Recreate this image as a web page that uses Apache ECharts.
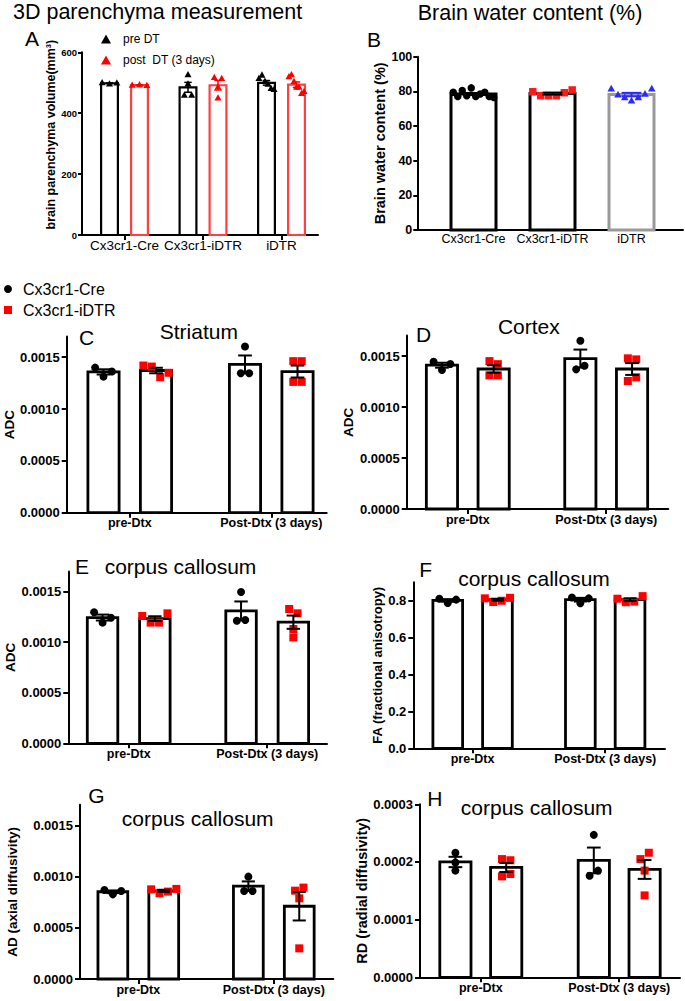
<!DOCTYPE html>
<html><head><meta charset="utf-8">
<script src="https://cdn.jsdelivr.net/npm/echarts@6/dist/echarts.min.js"></script>
<style>html,body{margin:0;padding:0;background:#fff}#c{width:685px;height:1001px}</style>
</head><body><div id="c"></div>
<script>
// ---------------- DATA ----------------
// Panel A: 3D parenchyma measurement (mm^3)
const catsA = ['Cx3cr1-Cre', 'Cx3cr1-iDTR', 'iDTR'];
const ticksA = [0, 200, 400, 600];
const preDT = [[500, 496, 499], [526, 459, 459, 496], [514, 525, 505, 495, 481, 478]];
const postDT = [[492, 493, 491], [517, 514, 486, 450], [520, 526, 504, 485, 485, 465, 471]];

// Panel B: brain water content (%)
const catsB = ['Cx3cr1-Cre', 'Cx3cr1-iDTR', 'iDTR'];
const ticksB = [0, 20, 40, 60, 80, 100];
const waterB = [
  [79.5, 77, 80.5, 77.5, 82, 77, 78.5, 79.5, 77, 76.5],
  [79.8, 77.5, 77.5, 77.5, 79.2, 80.8],
  [81.5, 78, 76.5, 74.5, 76.5, 78.5, 81.5]
];

// Panels C-H: MRI measures, pre-Dtx vs Post-Dtx
const dtxCats = ['pre-Dtx', 'Post-Dtx (3 days)'];
const adcTicks = [0, 0.0005, 0.0010, 0.0015];
const faTicks = [0, 0.2, 0.4, 0.6, 0.8];
const rdTicks = [0, 0.0001, 0.0002, 0.0003];

const striatumCre  = [[0.00140, 0.001313, 0.001362], [0.001603, 0.001345, 0.001345]];
const striatumIDTR = [[0.00142, 0.00141, 0.001307, 0.00135], [0.001462, 0.001462, 0.001262, 0.001262]];
const cortexCre    = [[0.001444, 0.001363, 0.001422], [0.00165, 0.001369, 0.001405]];
const cortexIDTR   = [[0.00145, 0.00142, 0.00131, 0.00131], [0.001477, 0.001467, 0.001255, 0.001291]];
const ccAdcCre     = [[0.001296, 0.001194, 0.001243], [0.001497, 0.001213, 0.00122]];
const ccAdcIDTR    = [[0.00126, 0.001194, 0.001194, 0.001286], [0.001329, 0.001286, 0.001131, 0.001048]];
const faCre        = [[0.811, 0.788, 0.806], [0.818, 0.786, 0.813]];
const faIDTR       = [[0.813, 0.793, 0.800, 0.816], [0.811, 0.792, 0.795, 0.825]];
const adCre        = [[0.000869, 0.000826, 0.000859], [0.000999, 0.000859, 0.000859]];
const adIDTR       = [[0.000875, 0.000836, 0.000853, 0.000879], [0.000862, 0.000787, 0.000892, 0.000299]];
const rdCre        = [[0.000216, 0.000185, 0.000199], [0.000247, 0.000176, 0.000185]];
const rdIDTR       = [[0.000205, 0.000203, 0.000175, 0.000179], [0.000205, 0.000216, 0.000185, 0.000142]];

// ---------------- LAYOUT ----------------
const FONT = 'Liberation Sans, Arial, sans-serif';
const f4 = v => v.toFixed(4), f1 = v => v.toFixed(1), fs = v => String(v);
const dtxStyle = {xFont: 12.5, xBold: true, xMargin: 4, tickFont: 13, tickMargin: 7, tickLen: 5, showXTick: true,
  barStroke: 2.8, ptSize: 8, errW: 2};
const panels = [
  {L: 82, R: 318, top: 52.3, bottom: 235, c0: 124.5, unit: 78.5, barW: 19, pair: 30, cats: catsA, max: 600, ticks: ticksA, fmt: fs,
   yName: 'brain parenchyma volume(mm³)', yFont: 12.5, nameGap: 23.5, namePad: [0, 0, 0, 18],
   xFont: 13.5, xBold: false, xMargin: 3, tickFont: 9.5, tickMargin: 5, tickLen: 4, showXTick: true, barStroke: 2.2, ptSize: 7, errW: 1.5},
  {L: 417.3, R: 683, top: 56.7, bottom: 230, c0: 473.5, unit: 79, barW: 48, pair: 0, cats: catsB, max: 100, ticks: ticksB, fmt: fs,
   yName: 'Brain water content (%)', yFont: 14.5, nameGap: 26.5,
   xFont: 12.5, xBold: false, xMargin: 2, tickFont: 12.5, tickMargin: 5, tickLen: 4, showXTick: false, barStroke: 3, ptSize: 7.5, errW: 2},
  Object.assign({L: 66.7, R: 326.7, top: 336.5, bottom: 512.7, c0: 129.75, unit: 141.5, barW: 34, pair: 52.5, cats: dtxCats, max: 0.0017, ticks: adcTicks, fmt: f4,
   yName: 'ADC', yFont: 13.5, nameGap: 50}, dtxStyle),
  Object.assign({L: 406.7, R: 668.3, top: 335.6, bottom: 509, c0: 467.8, unit: 138.4, barW: 34, pair: 51.7, cats: dtxCats, max: 0.0017, ticks: adcTicks, fmt: f4,
   yName: 'ADC', yFont: 13.5, nameGap: 51}, dtxStyle),
  Object.assign({L: 68.3, R: 327, top: 571.5, bottom: 743.3, c0: 128.7, unit: 138.5, barW: 33.3, pair: 52.3, cats: dtxCats, max: 0.0017, ticks: adcTicks, fmt: f4,
   yName: 'ADC', yFont: 13.5, nameGap: 48.5}, dtxStyle),
  Object.assign({L: 413.3, R: 665, top: 582.3, bottom: 748.3, c0: 472.6, unit: 132.6, barW: 32.5, pair: 49.7, cats: dtxCats, max: 0.9, ticks: faTicks, fmt: f1,
   yName: 'FA (fractional anisotropy)', yFont: 13, nameGap: 27.8}, dtxStyle),
  Object.assign({L: 80, R: 333.3, top: 804.8, bottom: 979, c0: 138.3, unit: 135.5, barW: 32.6, pair: 50.9, cats: dtxCats, max: 0.0017, ticks: adcTicks, fmt: f4,
   yName: 'AD (axial diffusivity)', yFont: 13.5, nameGap: 60.5}, dtxStyle),
  Object.assign({L: 420, R: 680, top: 804.3, bottom: 977.3, c0: 480.8, unit: 138.4, barW: 34, pair: 50.8, cats: dtxCats, max: 0.0003, ticks: rdTicks, fmt: f4,
   yName: 'RD (radial diffusivity)', yFont: 14.5, nameGap: 49}, dtxStyle)
];

const RED = '#ff0000', BLK = '#000000';
const groups = [
  {p: 0, name: 'pre DT', slot: -1, data: preDT, shape: 'triangle', color: BLK, stroke: BLK, err: BLK},
  {p: 0, name: 'post  DT (3 days)', slot: 1, data: postDT, shape: 'triangle', color: RED, stroke: '#ff4040', err: RED},
  {p: 1, name: 'Brain water content', slot: 0, data: waterB, shape: ['circle', 'rect', 'triangle'],
   color: [BLK, '#ff1a1a', '#2a2aff'], stroke: [BLK, BLK, '#999999'], err: [BLK, BLK, '#2a2aff']},
  {p: 2, name: 'Cx3cr1-Cre', slot: -1, data: striatumCre, shape: 'circle', color: BLK, stroke: BLK, err: BLK},
  {p: 2, name: 'Cx3cr1-iDTR', slot: 1, data: striatumIDTR, shape: 'rect', color: RED, stroke: BLK, err: BLK},
  {p: 3, name: 'Cx3cr1-Cre', slot: -1, data: cortexCre, shape: 'circle', color: BLK, stroke: BLK, err: BLK},
  {p: 3, name: 'Cx3cr1-iDTR', slot: 1, data: cortexIDTR, shape: 'rect', color: RED, stroke: BLK, err: BLK},
  {p: 4, name: 'Cx3cr1-Cre', slot: -1, data: ccAdcCre, shape: 'circle', color: BLK, stroke: BLK, err: BLK},
  {p: 4, name: 'Cx3cr1-iDTR', slot: 1, data: ccAdcIDTR, shape: 'rect', color: RED, stroke: BLK, err: BLK},
  {p: 5, name: 'Cx3cr1-Cre', slot: -1, data: faCre, shape: 'circle', color: BLK, stroke: BLK, err: BLK},
  {p: 5, name: 'Cx3cr1-iDTR', slot: 1, data: faIDTR, shape: 'rect', color: RED, stroke: BLK, err: BLK},
  {p: 6, name: 'Cx3cr1-Cre', slot: -1, data: adCre, shape: 'circle', color: BLK, stroke: BLK, err: BLK},
  {p: 6, name: 'Cx3cr1-iDTR', slot: 1, data: adIDTR, shape: 'rect', color: RED, stroke: BLK, err: BLK},
  {p: 7, name: 'Cx3cr1-Cre', slot: -1, data: rdCre, shape: 'circle', color: BLK, stroke: BLK, err: BLK},
  {p: 7, name: 'Cx3cr1-iDTR', slot: 1, data: rdIDTR, shape: 'rect', color: RED, stroke: BLK, err: BLK}
];

// ---------------- HELPERS ----------------
const pick = (v, i) => Array.isArray(v) ? v[i] : v;
const meanOf = a => a.reduce((s, x) => s + x, 0) / a.length;
const semOf = a => { const m = meanOf(a); return Math.sqrt(a.reduce((s, x) => s + (x - m) * (x - m), 0) / (a.length - 1)) / Math.sqrt(a.length); };

function swarm(vals, api, cx, size, maxSpread) {
  const ys = vals.map(v => api.coord([0, v])[1]);
  const idx = vals.map((_, k) => k).sort((a, b) => ys[a] - ys[b]);
  const clusters = []; let cur = [idx[0]];
  for (let k = 1; k < idx.length; k++) {
    if (ys[idx[k]] - ys[idx[k - 1]] < size * 0.9) cur.push(idx[k]);
    else { clusters.push(cur); cur = [idx[k]]; }
  }
  clusters.push(cur);
  const xs = [];
  clusters.forEach(c => {
    c.sort((a, b) => a - b);
    const n = c.length;
    const d = n > 1 ? Math.min(size * 1.05, maxSpread / (n - 1)) : 0;
    c.forEach((k, j) => { xs[k] = cx + (j - (n - 1) / 2) * d; });
  });
  return vals.map((_, k) => [xs[k], ys[k]]);
}

function marker(shape, x, y, s, color) {
  if (shape === 'circle') return {type: 'circle', shape: {cx: x, cy: y, r: s / 2}, style: {fill: color}};
  if (shape === 'rect') return {type: 'rect', shape: {x: x - s / 2, y: y - s / 2, width: s, height: s}, style: {fill: color}};
  const h = s * 0.9;
  return {type: 'polygon', shape: {points: [[x, y - h * 0.6], [x - s / 2, y + h * 0.4], [x + s / 2, y + h * 0.4]]}, style: {fill: color}};
}

function makeRender(g, p) {
  return function (params, api) {
    const i = params.dataIndex;
    const vals = g.data[i];
    const m = meanOf(vals), se = semOf(vals);
    const c = api.coord([i, m]);
    const b = api.coord([i, 0]);
    const cx = c[0] + g.slot * p.pair / 2;
    const sw = p.barStroke, w = p.barW - sw;
    const errC = pick(g.err, i);
    const children = [{type: 'rect', shape: {x: cx - w / 2, y: c[1], width: w, height: b[1] - c[1]},
      style: {fill: '#fff', stroke: pick(g.stroke, i), lineWidth: sw}}];
    swarm(vals, api, cx, p.ptSize, w * 0.9).forEach(([x, y]) =>
      children.push(marker(pick(g.shape, i), x, y, p.ptSize, pick(g.color, i))));
    const yHi = api.coord([i, m + se])[1], yLo = api.coord([i, m - se])[1];
    const cap = w * 0.22;
    const ls = {stroke: errC, lineWidth: p.errW};
    children.push({type: 'line', shape: {x1: cx, y1: yHi, x2: cx, y2: yLo}, style: ls});
    children.push({type: 'line', shape: {x1: cx - cap, y1: yHi, x2: cx + cap, y2: yHi}, style: ls});
    children.push({type: 'line', shape: {x1: cx - cap, y1: yLo, x2: cx + cap, y2: yLo}, style: ls});
    return {type: 'group', children};
  };
}

// ---------------- OPTION ----------------
const grid = [], xAxis = [], yAxis = [];
panels.forEach((p, k) => {
  const n = p.cats.length;
  grid.push({left: p.L, top: p.top, width: p.R - p.L, height: p.bottom - p.top});
  const idxs = p.cats.map((_, i) => i);
  xAxis.push({
    type: 'value', gridIndex: k,
    min: -(p.c0 - p.L) / p.unit,
    max: (n - 1) + (p.R - p.c0 - (n - 1) * p.unit) / p.unit,
    splitLine: {show: false},
    axisLine: {show: true, onZero: false, lineStyle: {color: BLK, width: 2}},
    axisTick: {show: p.showXTick, customValues: idxs, length: 5, lineStyle: {color: BLK, width: 2}},
    axisLabel: {customValues: idxs, formatter: v => p.cats[Math.round(v)], margin: p.xMargin, hideOverlap: false,
      color: BLK, fontFamily: FONT, fontSize: p.xFont, fontWeight: p.xBold ? 'bold' : 'normal'}
  });
  yAxis.push({
    type: 'value', gridIndex: k, min: 0, max: p.max,
    splitLine: {show: false},
    axisLine: {show: true, onZero: false, lineStyle: {color: BLK, width: 2}},
    axisTick: {show: true, customValues: p.ticks, length: p.tickLen, lineStyle: {color: BLK, width: 2}},
    axisLabel: {customValues: p.ticks, formatter: p.fmt, margin: p.tickMargin, color: BLK,
      fontFamily: FONT, fontSize: p.tickFont, fontWeight: 'bold'},
    name: p.yName, nameLocation: 'middle', nameRotate: 90, nameGap: p.nameGap,
    nameTextStyle: {color: BLK, fontFamily: FONT, fontSize: p.yFont, fontWeight: 'bold', padding: p.namePad || 0}
  });
});

const series = groups.map(g => ({
  type: 'custom', name: g.name, xAxisIndex: g.p, yAxisIndex: g.p,
  itemStyle: {color: pick(g.color, 0)},
  data: g.data.map((v, i) => [i, meanOf(v)]),
  encode: {x: 0, y: 1},
  renderItem: makeRender(g, panels[g.p])
}));

const labels = [
  ['3D parenchyma measurement', 13, 12, 21.5, 'left'],
  ['A', 25, 38.5, 21, 'left'],
  ['Brain water content (%)', 530, 12.5, 21.5, 'center'],
  ['B', 367, 39, 21, 'left'],
  ['C', 79, 337.5, 21, 'left'], ['Striatum', 198.8, 331, 21, 'center'],
  ['D', 416, 334.5, 21, 'left'], ['Cortex', 528.8, 326, 21, 'center'],
  ['E', 75, 566, 21, 'left'], ['corpus callosum', 180.5, 566.5, 21, 'center'],
  ['F', 419.3, 569, 21, 'left'], ['corpus callosum', 534, 578.3, 21, 'center'],
  ['G', 88.3, 795, 21, 'left'], ['corpus callosum', 197.7, 818.7, 21, 'center'],
  ['H', 427.3, 798.3, 21, 'left'], ['corpus callosum', 536.7, 807, 21, 'center']
];
const graphic = labels.map(([t, x, y, s, a]) => ({
  type: 'text', x, y, silent: true,
  style: {text: t, fill: BLK, font: `${s}px ${FONT}`, textAlign: a, textVerticalAlign: 'middle'}
}));

const legend = [
  {orient: 'vertical', left: 101, top: 33, padding: 0, itemWidth: 10, itemHeight: 9, itemGap: 9, selectedMode: false,
   textStyle: {color: BLK, fontFamily: FONT, fontSize: 12, padding: [0, 0, 0, 7]},
   data: [{name: 'pre DT', icon: 'triangle', itemStyle: {color: BLK}},
          {name: 'post  DT (3 days)', icon: 'triangle', itemStyle: {color: RED}}]},
  {orient: 'vertical', left: 4, top: 281, padding: 0, itemWidth: 8, itemHeight: 8, itemGap: 5, selectedMode: false,
   textStyle: {color: BLK, fontFamily: FONT, fontSize: 16, padding: [0, 0, 0, 6]},
   data: [{name: 'Cx3cr1-Cre', icon: 'circle', itemStyle: {color: BLK}},
          {name: 'Cx3cr1-iDTR', icon: 'rect', itemStyle: {color: RED}}]}
];

const chart = echarts.init(document.getElementById('c'), null, {renderer: 'svg'});
chart.setOption({animation: false, backgroundColor: '#fff', grid, xAxis, yAxis, series, legend, graphic});
</script></body></html>
